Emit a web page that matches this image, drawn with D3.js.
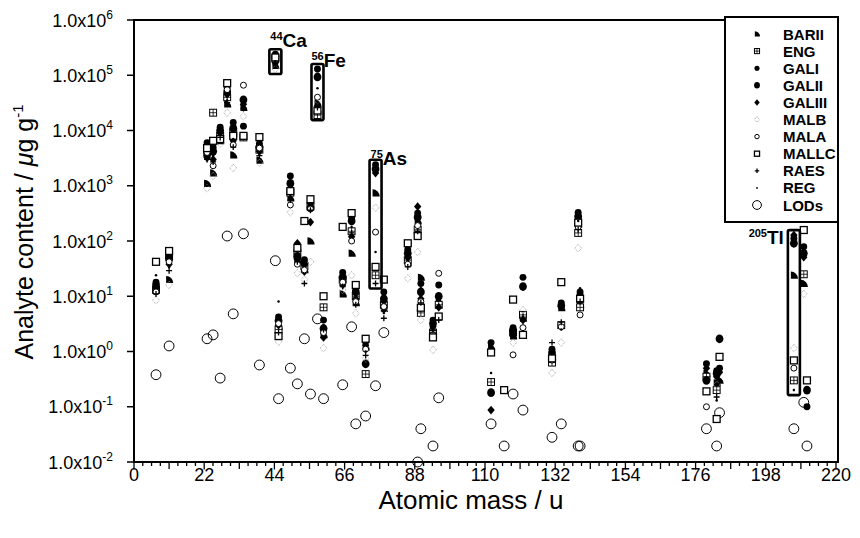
<!DOCTYPE html>
<html><head><meta charset="utf-8">
<script src="https://cdn.jsdelivr.net/npm/d3@7"></script>
<style>body{margin:0;background:#fff}svg{display:block}text{font-family:"Liberation Sans",Arial,Helvetica,sans-serif}</style>
</head><body><svg id="c" width="860" height="538"></svg>
<script>
// element columns (atomic mass as plotted, u)
const masses=[6.9,11,22.9,24.8,27,29.2,31.1,34.3,39.3,44.3,45.3,49,51.2,53.4,55.3,57.5,59.4,65.4,68.2,69.5,72.6,75.7,78.3,85.8,88.9,89.9,93.7,95.5,111.9,116,118.8,121.9,131,133.9,139.2,139.8,179.4,182.6,183.5,206.8,209.9,210.9];
const seriesNames=["BARII","ENG","GALI","GALII","GALIII","MALB","MALA","MALLC","RAES","REG","LODs"];
const BARII=[15,20,1100,1700,6500,30000,3600,26000,2900,150000,2.8,600,45,30,100,31000,2.0,11,60,7.6,1.2,740,6,40,230,22,2.5,8,1.2,null,1.9,4,0.8,6.2,200,7,0.4,0.27,0.3,24,17,null];
const ENG=[13,52,4500,21000,8000,40000,9000,7500,4500,200000,2.5,750,60,35,420,19000,6.3,20,150,10,0.39,24,7,45,160,5,2.2,7,0.28,null,2.2,4.6,0.63,3.0,140,6.3,0.35,0.2,null,0.3,25,null];
const GALI=[18,46,6000,5000,11500,60000,14000,12000,5800,240000,4.2,1500,55,46,490,130000,3.7,27,260,13,1.5,2400,12,70,320,17,3.7,16,1.45,null,2.7,22,1.1,7.6,330,12,0.6,0.45,0.5,112,79,0.1];
const GALII=[16,50,3600,4200,10000,50000,11000,36000,5000,220000,3.6,1100,50,40,400,93000,2.6,22,230,12,0.6,2000,9,60,270,12,3.2,10,0.18,null,2.4,15,0.95,6.8,280,10,0.3,0.4,1.7,91,60,0.2];
const GALIII=[14,38,3200,3000,9000,45000,6500,30000,4200,170000,3.0,900,91,28,220,28000,1.8,16,120,9,1.3,1700,8,50,420,9,2.8,6.3,0.087,null,2.0,3.7,0.85,6.5,250,8.5,0.5,0.35,0.42,128,51,null];
const MALB=[8.5,16,900,1500,5800,21000,2100,18000,2600,130000,1.5,330,26,20,42,35000,1.15,13,24,4.9,0.75,400,5.5,21,63,3.7,1.07,4,null,null,1.45,5.6,0.41,1.45,74,null,null,0.25,null,1.15,11,null];
const MALA=[12,42,4000,2300,7000,55000,5500,66000,4800,190000,3.2,450,38,30,380,40000,2.2,18,100,8,1.1,145,6.5,38,190,8,2,26,null,null,0.87,2.7,0.7,2.8,180,4.6,0.1,null,null,0.5,null,null];
const MALLC=[42,66,4800,6500,7000,72000,8000,8000,7600,210000,1.9,800,75,230,570,23000,10,180,320,16,1.7,34,20,91,123,6.2,1.8,4.3,0.96,0.2,8.7,2.0,0.75,18,215,9,0.19,0.06,0.8,0.69,158,0.3];
const RAES=[11,29,3000,2700,7500,32000,5000,25000,3500,160000,2.2,550,42,17,360,26000,2.5,15,140,7,0.85,17,4,34,150,7.6,2.4,3.7,null,null,2.1,4.2,1.45,3.4,160,8,null,0.15,null,null,null,null];
const REG=[24,34,1000,3500,8500,35000,7000,28000,3800,180000,8,650,48,38,450,58000,3,24,180,11,1.0,63,5,55,250,14,3,11,0.41,null,1.8,3.9,0.9,2.5,230,14,null,0.13,null,0.2,null,null];
const LODs=[0.38,1.26,1.7,2.0,0.33,123,4.8,135,0.57,44,0.14,0.5,0.26,1.7,0.17,3.9,0.14,0.25,2.8,0.049,0.068,0.24,2.2,null,0.01,0.04,0.0195,0.145,0.049,0.0195,0.17,0.087,0.028,0.049,0.0195,0.0195,0.04,0.0195,0.078,0.04,0.12,0.0195];
const yTickExps=[-2,-1,0,1,2,3,4,5,6];
const xTickLabels=[0,22,44,66,88,110,132,154,176,198,220];
const boxedIdx=[9,15,21,39];
const boxedIso=["44","56","75","205"];
const boxedEl=["Ca","Fe","As","Tl"];

const seriesValues=[BARII,ENG,GALI,GALII,GALIII,MALB,MALA,MALLC,RAES,REG,LODs];
const svg=d3.select("#c");
const L=134,R=838,T=20,B=462;
const x=d3.scaleLinear().domain([0,220]).range([134,836]);
const y=d3.scaleLog().domain([1e-2,1e6]).range([B,T]);

// marker drawers
function marker(g,name,s){
  s=s||1;
  switch(name){
    case "BARII": g.append("path").attr("d",`M${-2.6*s},${-3.2*s}L${-2.6*s},${3*s}L${3.6*s},${3*s}A${6.2*s},${6.2*s} 0 0 0 ${-2.6*s},${-3.2*s}Z`).attr("fill","#000");break;
    case "ENG": g.append("rect").attr("x",-3*s).attr("y",-3*s).attr("width",6*s).attr("height",6*s).attr("fill","#fff").attr("stroke","#000").attr("stroke-width",1);
      g.append("path").attr("d",`M${-3*s},0H${3*s}M0,${-3*s}V${3*s}`).attr("stroke","#000").attr("stroke-width",0.8);break;
    case "GALI": g.append("circle").attr("r",3*s).attr("fill","#000");break;
    case "GALII": g.append("ellipse").attr("rx",3.4*s).attr("ry",3.8*s).attr("fill","#000");break;
    case "GALIII": g.append("path").attr("d",`M0,${-3.8*s}L${3.2*s},0L0,${3.8*s}L${-3.2*s},0Z`).attr("fill","#000");break;
    case "MALB": g.append("path").attr("d",`M0,${-3.3*s}L${3*s},0L0,${3.3*s}L${-3*s},0Z`).attr("fill","none").attr("stroke","#9a9a9a").attr("stroke-width",0.9).attr("stroke-dasharray","1,1");break;
    case "MALA": g.append("circle").attr("r",2.6*s).attr("fill","#fff").attr("stroke","#000").attr("stroke-width",1);break;
    case "MALLC": g.append("rect").attr("x",-3*s).attr("y",-3*s).attr("width",6*s).attr("height",6*s).attr("fill","#fff").attr("stroke","#000").attr("stroke-width",1.3);break;
    case "RAES": g.append("path").attr("d",`M${-2.6*s},0H${2.6*s}M0,${-2.6*s}V${2.6*s}`).attr("stroke","#000").attr("stroke-width",1.3);break;
    case "REG": g.append("circle").attr("r",1.1*s).attr("fill","#000");break;
    case "LODs": g.append("circle").attr("r",4.4*s).attr("fill","none").attr("stroke","#000").attr("stroke-width",1);break;
  }
}

// data points: LODs first (open), then samples in legend order
const order=[10,0,1,2,3,4,5,6,7,8,9];
order.forEach(si=>{
  const name=seriesNames[si], vals=seriesValues[si];
  const pts=masses.map((m,i)=>({m,v:vals[i]})).filter(d=>d.v!=null);
  const g=svg.append("g").attr("class","s-"+name);
  pts.forEach(d=>{
    const pg=g.append("g").attr("transform",`translate(${x(d.m)},${y(d.v)})`);
    marker(pg,name,name==="LODs"?1.12:1.15);
  });
});

// highlight boxes
const sampleSeries=seriesValues.slice(0,10);
const labelCfg=[{dx:1,dy:-2,anchor:"start"},{dx:0,dy:3,anchor:"start"},{dx:1,dy:5,anchor:"start"},{dx:-4,dy:14,anchor:"end"}];
boxedIdx.forEach((idx,k)=>{
  const vals=sampleSeries.map(s=>s[idx]).filter(v=>v!=null);
  const top=y(d3.max(vals))-5, bot=y(d3.min(vals))+5;
  const cx=x(masses[idx]);
  svg.append("rect").attr("x",cx-6).attr("y",top).attr("width",12).attr("height",bot-top)
    .attr("rx",1.5).attr("fill","none").attr("stroke","#000").attr("stroke-width",2.6);
  const c=labelCfg[k];
  const t=svg.append("text").attr("x",cx-6+c.dx).attr("y",top+c.dy)
    .attr("text-anchor",c.anchor).attr("font-weight","bold");
  t.append("tspan").attr("font-size",11).attr("dy",-7).text(boxedIso[k]);
  t.append("tspan").attr("font-size",19).attr("dy",7).text(boxedEl[k]);
});

// frame
svg.append("rect").attr("x",L).attr("y",T).attr("width",R-L).attr("height",B-T).attr("fill","none").attr("stroke","#000").attr("stroke-width",2);

// y ticks
yTickExps.forEach(e=>{
  const yy=y(Math.pow(10,e));
  svg.append("line").attr("x1",127).attr("x2",L).attr("y1",yy).attr("y2",yy).attr("stroke","#000").attr("stroke-width",1.5);
  const t=svg.append("text").attr("x",113).attr("y",yy+6.5).attr("text-anchor","end").attr("font-size",18);
  t.append("tspan").text("1.0x10");
  t.append("tspan").attr("font-size",12).attr("dy",-8).text(String(e));
});

// x ticks
for(let k=0;k<=80;k++){
  const v=k*2.75, xx=x(v);
  const len=(k%8===0)?7.5:(k%4===0?7:4);
  svg.append("line").attr("x1",xx).attr("x2",xx).attr("y1",B).attr("y2",B+len).attr("stroke","#000").attr("stroke-width",1.3);
}
xTickLabels.forEach(v=>{
  svg.append("text").attr("x",x(v)).attr("y",481).attr("text-anchor","middle").attr("font-size",18).text(v);
});

// axis titles
svg.append("text").attr("x",471).attr("y",509).attr("text-anchor","middle").attr("font-size",26).text("Atomic mass / u");
const yt=svg.append("text").attr("transform","translate(33,232) rotate(-90)").attr("text-anchor","middle").attr("font-size",25);
yt.append("tspan").text("Analyte content / ");
yt.append("tspan").attr("font-style","italic").text("μ");
yt.append("tspan").text("g g");
yt.append("tspan").attr("font-size",15).attr("dy",-10).text("-1");

// legend
svg.append("rect").attr("x",725).attr("y",17).attr("width",R-725).attr("height",205).attr("fill","#fff").attr("stroke","#000").attr("stroke-width",2);
seriesNames.forEach((n,i)=>{
  const yy=34+i*17.1;
  const g=svg.append("g").attr("transform",`translate(757,${yy})`);
  marker(g,n,n==="LODs"?1:0.85);
  svg.append("text").attr("x",783).attr("y",yy+5.5).attr("font-size",15).attr("font-weight","bold").text(n);
});
</script></body></html>
